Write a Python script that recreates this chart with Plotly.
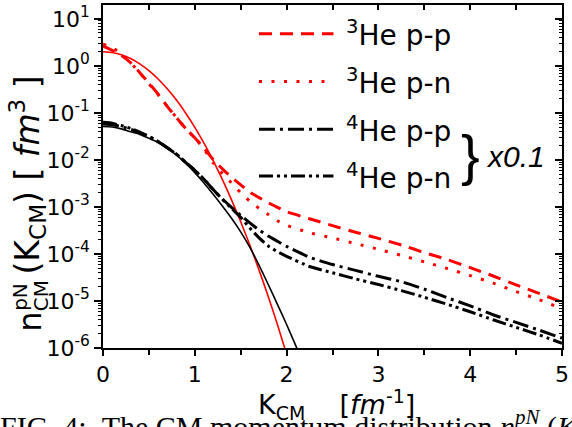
import plotly.graph_objects as go

# ---------------- data ----------------
K_FINE = [0.0, 0.1, 0.2, 0.3, 0.4, 0.5, 0.6, 0.7, 0.8, 0.9, 1.0, 1.1, 1.2, 1.3, 1.4, 1.5,
          1.6, 1.7, 1.8, 1.9, 2.0]
K_FULL = K_FINE + [2.25, 2.5, 2.75, 3.0, 3.25, 3.5, 3.75, 4.0, 4.25, 4.5, 4.75, 5.0]
K_SOLID_BLACK = K_FINE + [2.1, 2.2]

HE3_PP = [2.63, 2.14, 1.66, 1.175, 0.724, 0.427, 0.251, 0.138, 0.0794, 0.0468, 0.0295,
          0.0178, 0.0102, 6.46e-3, 4.27e-3, 2.95e-3, 2.04e-3, 1.58e-3, 1.23e-3, 9.8e-4, 7.9e-4,
          5.6e-4, 4.0e-4, 2.9e-4, 2.14e-4, 1.55e-4, 1.07e-4, 7.6e-5, 5.1e-5, 3.4e-5, 2.2e-5,
          1.45e-5, 9.5e-6]
HE3_PN = [2.88, 2.45, 1.78, 1.175, 0.708, 0.417, 0.245, 0.138, 0.0794, 0.0468, 0.0295,
          0.0170, 8.7e-3, 5.13e-3, 3.24e-3, 2.0e-3, 1.32e-3, 9.3e-4, 6.9e-4, 5.1e-4, 4.07e-4,
          2.82e-4, 2.19e-4, 1.66e-4, 1.26e-4, 9.3e-5, 6.8e-5, 4.9e-5, 3.47e-5, 2.4e-5, 1.58e-5,
          1.07e-5, 6.8e-6]
HE4_PP = [0.0581, 0.0562, 0.0513, 0.0447, 0.0380, 0.0316, 0.0245, 0.0182, 0.0132, 8.9e-3,
          6.0e-3, 3.89e-3, 2.34e-3, 1.48e-3, 9.8e-4, 6.6e-4, 4.57e-4, 3.24e-4, 2.40e-4, 1.86e-4,
          1.45e-4, 8.5e-5, 5.96e-5, 4.47e-5, 3.35e-5, 2.57e-5, 1.78e-5, 1.17e-5, 7.9e-6, 5.1e-6,
          3.5e-6, 2.4e-6, 1.62e-6]
HE4_PN = [0.0631, 0.0603, 0.0537, 0.0468, 0.0389, 0.0316, 0.0245, 0.0182, 0.0132, 8.9e-3,
          6.0e-3, 3.89e-3, 2.34e-3, 1.45e-3, 9.3e-4, 6.0e-4, 3.55e-4, 2.19e-4, 1.48e-4, 1.12e-4,
          8.9e-5, 5.4e-5, 3.98e-5, 2.95e-5, 2.24e-5, 1.66e-5, 1.2e-5, 8.5e-6, 5.9e-6, 3.98e-6,
          2.75e-6, 1.9e-6, 1.26e-6]
HE3_SOLID = [2.0, 1.92, 1.72, 1.43, 1.10, 0.79, 0.526, 0.326, 0.187, 0.0995, 0.0493, 0.0227,
             9.7e-3, 3.84e-3, 1.41e-3, 4.83e-4, 1.53e-4, 4.53e-5, 1.24e-5, 3.16e-6, 7.4e-7]
HE4_SOLID = [0.0513, 0.0501, 0.0457, 0.0398, 0.0347, 0.0288, 0.0234, 0.0178, 0.0126, 8.5e-3,
             5.37e-3, 3.24e-3, 1.86e-3, 1.05e-3, 5.75e-4, 2.95e-4, 1.38e-4, 5.75e-5, 2.24e-5,
             8.5e-6, 3.16e-6, 1.12e-6, 3.8e-7]

SERIES_NAMES = ["<sup>3</sup>He p-p", "<sup>3</sup>He p-n",
                "<sup>4</sup>He p-p", "<sup>4</sup>He p-n"]
Y_TICK_EXP = [-6, -5, -4, -3, -2, -1, 0, 1]
Y_TICK_TEXT = ["10<sup>%d</sup>" % e for e in Y_TICK_EXP]
X_TICKS = [0, 1, 2, 3, 4, 5]

# ---------------- styling ----------------
RED = "#ff0000"
BLACK = "#000000"
DASHES = ["13px,8px", "3px,9.5px", "16px,5px,3px,5px", "14px,4px,3px,4px,3px,4px"]
COLORS = [RED, RED, BLACK, BLACK]
W, H = 572, 427
ML, MR, MT, MB = 103, 7, 3, 79
PW, PH = W - ML - MR, H - MT - MB
TICKFONT = dict(family="DejaVu Sans", size=22, color="black")


def px(X):
    return (X - ML) / PW


def py(Y):
    return (H - MB - Y) / PH


fig = go.Figure()
fig.add_trace(go.Scatter(x=K_FINE, y=HE3_SOLID, mode="lines",
                         line=dict(color=RED, width=1.6, shape="spline", smoothing=0.6),
                         showlegend=False))
fig.add_trace(go.Scatter(x=K_SOLID_BLACK, y=HE4_SOLID, mode="lines",
                         line=dict(color=BLACK, width=1.6, shape="spline", smoothing=0.6),
                         showlegend=False))
for name, ys, dash, col in zip(SERIES_NAMES, [HE3_PP, HE3_PN, HE4_PP, HE4_PN], DASHES, COLORS):
    fig.add_trace(go.Scatter(x=K_FULL, y=ys, mode="lines", name=name,
                             line=dict(color=col, width=3, dash=dash, shape="spline",
                                       smoothing=0.5),
                             showlegend=False))

minor_vals = [m * 10.0 ** e for e in range(-6, 1) for m in range(2, 10)]
yrange = [-6, 1.294]

fig.update_layout(
    width=W, height=H, margin=dict(l=ML, r=MR, t=MT, b=MB),
    paper_bgcolor="white", plot_bgcolor="white", showlegend=False,
    font=dict(family="DejaVu Sans", color="black"),
    xaxis=dict(range=[0, 5], showgrid=False, zeroline=False, showline=True,
               linecolor="black", linewidth=1.5, ticks="outside", ticklen=6,
               tickwidth=1.5, tickcolor="black", tickvals=X_TICKS,
               minor=dict(ticks="outside", ticklen=5, tickwidth=1.5, dtick=0.5,
                          tickcolor="black", showgrid=False),
               tickfont=TICKFONT),
    yaxis=dict(type="log", range=yrange, showgrid=False, zeroline=False, showline=True,
               linecolor="black", linewidth=1.5, ticks="outside", ticklen=7, tickwidth=1.5,
               tickcolor="black", tickvals=[10.0 ** e for e in Y_TICK_EXP],
               ticktext=Y_TICK_TEXT, tickfont=TICKFONT,
               minor=dict(ticks="outside", ticklen=3.5, tickwidth=1, tickvals=minor_vals,
                          tickcolor="black", showgrid=False)),
    xaxis2=dict(range=[0, 5], overlaying="x", side="top", anchor="y", showgrid=False,
                zeroline=False, showline=True, linecolor="black", linewidth=1.5,
                ticks="inside", ticklen=5, tickwidth=1.5, tickcolor="black", dtick=0.5,
                showticklabels=False),
    yaxis2=dict(type="log", range=yrange, overlaying="y", side="right", anchor="x",
                showgrid=False, zeroline=False, showline=True, linecolor="black",
                linewidth=1.5, ticks="inside", ticklen=7, tickwidth=1.5, tickcolor="black",
                tickvals=[10.0 ** e for e in Y_TICK_EXP], showticklabels=False,
                minor=dict(ticks="inside", ticklen=3.5, tickwidth=1, tickvals=minor_vals,
                           tickcolor="black", showgrid=False)),
)
# invisible trace to attach the mirrored axes
fig.add_trace(go.Scatter(x=[None], y=[None], xaxis="x2", yaxis="y2", showlegend=False,
                         hoverinfo="skip"))


def note(X, Y, text, size, family="DejaVu Sans", angle=0, xa="center", ya="middle"):
    fig.add_annotation(xref="paper", yref="paper", x=px(X), y=py(Y), xanchor=xa,
                       yanchor=ya, text=text, showarrow=False, textangle=angle,
                       font=dict(family=family, size=size, color="black"))


# ---------------- legend (drawn by hand to get long line samples) ----------------
ROW_Y = [32, 80, 128, 175]
for name, dash, col, ry in zip(SERIES_NAMES, DASHES, COLORS, ROW_Y):
    fig.add_shape(type="line", xref="paper", yref="paper", x0=px(260), x1=px(335),
                  y0=py(ry), y1=py(ry), line=dict(color=col, width=3, dash=dash))
    note(346, ry, name, 28, xa="left")

note(473, 153, "}", 56, family="Liberation Sans")
note(486, 155, "<i>x0.1</i>", 30, family="Liberation Sans", xa="left")

# ---------------- axis titles ----------------
note(30, 321, "n", 32, angle=-90)
note(20, 297, "pN", 20, angle=-90)
note(40.5, 295, "CM", 20, angle=-90)
note(27, 174, "(K<sub>CM</sub>)\u00a0[\u00a0<i>fm</i><sup>3</sup>\u00a0]", 33, angle=-90)

note(338, 405, "K<sub>CM</sub>\u00a0\u00a0\u00a0\u00a0[<i>fm</i><sup>-1</sup>]", 27)

# caption fragment of the source page, cut by the picture edge
note(-3, 403,
     "FIG. 4:\u00a0\u00a0The CM momentum distribution <i>n<sup>pN</sup></i>\u00a0(<i>K</i>",
     30, family="Liberation Serif", xa="left", ya="top")

fig.write_html("out.html")
